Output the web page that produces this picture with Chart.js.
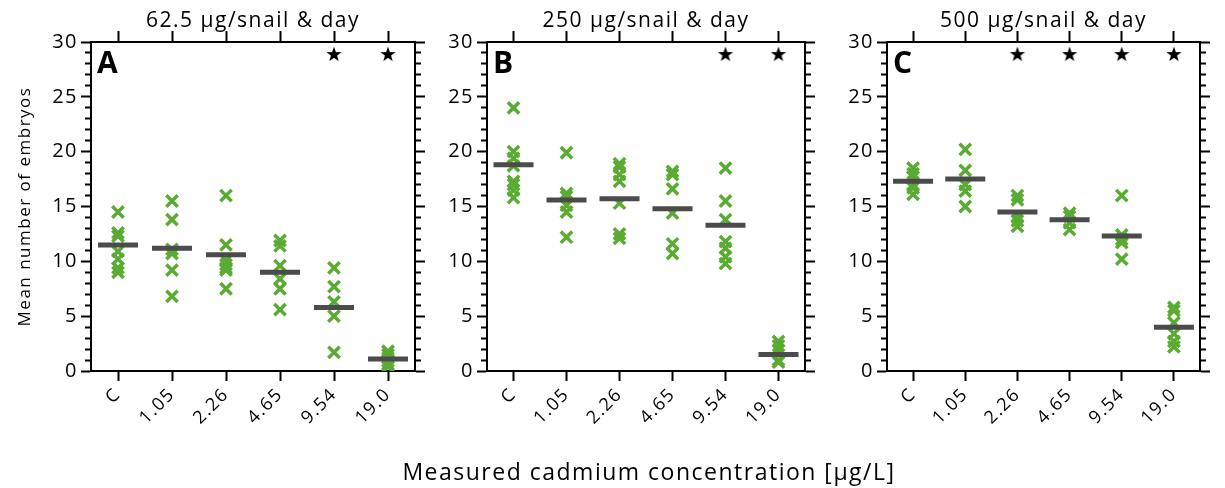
<!DOCTYPE html>
<html>
<head>
<meta charset="utf-8">
<script src="https://cdn.jsdelivr.net/npm/chart.js@4.4.1/dist/chart.umd.min.js"></script>
<style>
  body { margin: 0; background: #fff; }
  #wrap { position: relative; width: 1225px; height: 488px; overflow: hidden; }
  #wrap canvas { position: absolute; top: 0; }
  #xTitle {
    position: absolute; left: 149px; width: 1000px; top: 460px;
    text-align: center; font: 23px/23px "Open Sans", sans-serif;
    letter-spacing: 1.5px; color: #000; white-space: nowrap;
  }
</style>
</head>
<body>
<div id="wrap">
  <canvas id="panelA" width="440" height="488" style="left:0px"></canvas>
  <canvas id="panelB" width="435" height="488" style="left:395px"></canvas>
  <canvas id="panelC" width="395" height="488" style="left:830px"></canvas>
  <div id="xTitle">Measured cadmium concentration [µg/L]</div>
</div>
<script>
const concentrations = ['C', '1.05', '2.26', '4.65', '9.54', '19.0'];
const panelTitles = ['62.5 µg/snail & day', '250 µg/snail & day', '500 µg/snail & day'];
const panelLetters = ['A', 'B', 'C'];
const yMajorStep = 5;
const STAR_LEVEL = 28.9;

// individual replicate values (crosses), one list per concentration
const embryosA = [
  [14.5, 12.6, 12.3, 10.9, 10.2, 9.4, 9.0],
  [15.5, 13.8, 11.1, 10.7, 9.2, 6.8],
  [16.0, 11.5, 10.1, 9.7, 9.4, 9.2, 7.5],
  [11.9, 11.4, 9.6, 8.4, 7.5, 5.6],
  [9.4, 7.7, 6.3, 5.0, 1.7],
  [1.8, 1.5, 1.2, 0.9, 0.6, 0.4]
];
const meansA = [11.5, 11.2, 10.6, 9.0, 5.8, 1.1];
const starsA = ['9.54', '19.0'];

const embryosB = [
  [24.0, 20.0, 19.4, 18.7, 17.3, 17.0, 16.5, 15.8],
  [19.9, 16.2, 15.9, 15.1, 14.5, 12.2],
  [18.9, 18.6, 17.9, 17.3, 15.3, 12.5, 12.1],
  [18.2, 17.9, 16.6, 14.4, 11.6, 10.7],
  [18.5, 15.5, 13.8, 11.8, 11.2, 10.4, 9.8],
  [2.7, 2.3, 1.9, 1.0, 0.8]
];
const meansB = [18.8, 15.6, 15.7, 14.8, 13.3, 1.5];
const starsB = ['9.54', '19.0'];

const embryosC = [
  [18.5, 18.0, 17.7, 17.0, 16.7, 16.1],
  [20.2, 18.3, 17.0, 16.4, 15.0],
  [16.0, 15.6, 14.1, 13.7, 13.2],
  [14.4, 14.1, 13.5, 12.9],
  [16.0, 12.4, 12.0, 11.7, 10.2],
  [5.8, 5.5, 4.4, 3.4, 2.7, 2.2]
];
const meansC = [17.3, 17.5, 14.5, 13.8, 12.3, 4.0];
const starsC = ['2.26', '4.65', '9.54', '19.0'];

Chart.defaults.font.family = '"Open Sans", sans-serif';
Chart.defaults.color = '#000';

// little filled five-point star used as point style
const starImg = document.createElement('canvas');
starImg.width = 18; starImg.height = 18;
(function () {
  const c = starImg.getContext('2d');
  c.fillStyle = '#000';
  c.beginPath();
  for (let i = 0; i < 10; i++) {
    const r = i % 2 ? 3.2 : 8;
    const a = -Math.PI / 2 + i * Math.PI / 5;
    c.lineTo(9 + r * Math.cos(a), 9.5 + r * Math.sin(a));
  }
  c.closePath();
  c.fill();
})();

// the original font runs a bit wider than Open Sans
const spacingPlugin = {
  id: 'spacing',
  beforeUpdate(chart) { chart.ctx.letterSpacing = '1.5px'; },
  beforeDraw(chart) { chart.ctx.letterSpacing = '1.5px'; }
};

const letterPlugin = {
  id: 'panelLetter',
  afterDatasetsDraw(chart, args, opts) {
    const { ctx, chartArea } = chart;
    ctx.save();
    ctx.letterSpacing = '0px';
    ctx.font = 'bold 30px "Open Sans", sans-serif';
    ctx.fillStyle = '#000';
    ctx.textBaseline = 'alphabetic';
    ctx.fillText(opts.text, chartArea.left + 6, chartArea.top + 31);
    ctx.restore();
  }
};

function yGrid(dashOffset) {
  return {
    drawOnChartArea: false,
    tickLength: 10,
    tickWidth: 2,
    tickColor: '#000',
    tickBorderDash: ctx => (ctx.tick && ctx.tick.value % yMajorStep) ? [5, 4] : [],
    tickBorderDashOffset: dashOffset
  };
}

function drawPanel(id, layout, embryos, means, stars, idx) {
  const crossPoints = [];
  embryos.forEach((vals, k) => vals.forEach(v => crossPoints.push({ x: concentrations[k], y: v })));

  const axisBorder = { display: true, color: '#000', width: 2 };
  const yBase = { type: 'linear', min: 0, max: 30 };

  new Chart(document.getElementById(id), {
    type: 'scatter',
    data: {
      labels: concentrations,
      datasets: [
        {
          data: means.map((v, k) => ({ x: concentrations[k], y: v })),
          pointStyle: 'line', pointRadius: 20, borderWidth: 5,
          borderColor: '#4b4b4b', backgroundColor: '#4b4b4b', order: 0
        },
        {
          data: crossPoints,
          pointStyle: 'crossRot', pointRadius: 8, borderWidth: 3.5,
          borderColor: '#5aab32', backgroundColor: '#5aab32', order: 1
        },
        {
          data: stars.map(s => ({ x: s, y: STAR_LEVEL })),
          pointStyle: starImg, order: 2
        }
      ]
    },
    options: {
      responsive: false,
      animation: false,
      devicePixelRatio: 1,
      layout: { padding: 0 },
      plugins: {
        legend: { display: false },
        tooltip: { enabled: false },
        panelLetter: { text: panelLetters[idx] }
      },
      scales: {
        x: {
          type: 'category', position: 'bottom', offset: true,
          border: axisBorder,
          grid: { drawOnChartArea: false, tickLength: 10, tickWidth: 2, tickColor: '#000' },
          ticks: { font: { size: 18 }, minRotation: 45, maxRotation: 45, padding: 3, autoSkip: false },
          afterFit: s => { s.height = 488 - 371; }
        },
        x2: {
          type: 'category', position: 'top', offset: true, labels: concentrations,
          border: axisBorder,
          grid: { drawOnChartArea: false, tickLength: 11, tickWidth: 2, tickColor: '#000' },
          ticks: { callback: () => '' },
          title: { display: true, text: panelTitles[idx], font: { size: 21 }, padding: { top: 8, bottom: 0 } },
          afterFit: s => { s.height = 42; }
        },
        y: {
          ...yBase, position: 'left',
          border: axisBorder,
          grid: yGrid(5),
          ticks: {
            stepSize: 1, autoSkip: false, font: { size: 20 }, padding: 3,
            callback: v => (v % yMajorStep === 0 ? v : '')
          },
          title: {
            display: idx === 0,
            text: 'Mean number of embryos',
            font: { size: 17 },
            padding: { top: 15, bottom: 0 }
          },
          afterFit: s => { s.width = layout.plotLeft; }
        },
        y2: {
          ...yBase, position: 'right',
          border: axisBorder,
          grid: yGrid(0),
          ticks: { stepSize: 1, autoSkip: false, callback: () => '' },
          afterFit: s => { s.width = layout.rightSpace; }
        }
      }
    },
    plugins: [spacingPlugin, letterPlugin]
  });
}

drawPanel('panelA', { plotLeft: 91, rightSpace: 21 }, embryosA, meansA, starsA, 0);
drawPanel('panelB', { plotLeft: 92, rightSpace: 14 }, embryosB, meansB, starsB, 1);
drawPanel('panelC', { plotLeft: 57, rightSpace: 10 }, embryosC, meansC, starsC, 2);
</script>
</body>
</html>
